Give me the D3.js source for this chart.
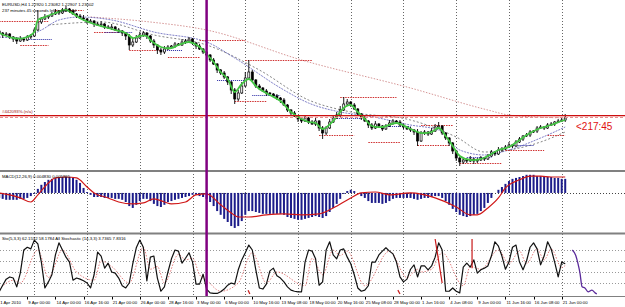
<!DOCTYPE html>
<html><head><meta charset="utf-8">
<script src="https://cdn.jsdelivr.net/npm/d3@7"></script>
<style>
body{margin:0;background:#fff}
svg{display:block;font-family:"Liberation Sans",Arial,sans-serif}
</style></head><body>
<svg id="chart" width="625" height="307"></svg>
<script>
// ---- data (one entry per 2 H4 bars) ----
const firstOpen = 1.319
const closes = [1.317,1.315,1.316,1.313,1.311,1.309,1.311,1.310,1.313,1.314,
	1.320,1.328,1.331,1.333,1.334,1.336,1.338,1.337,1.340,1.341,
	1.339,1.336,1.334,1.332,1.331,1.328,1.329,1.326,1.325,1.326,
	1.323,1.322,1.323,1.320,1.319,1.317,1.314,1.305,1.308,1.312,
	1.315,1.317,1.314,1.309,1.305,1.300,1.298,1.301,1.303,1.304,
	1.306,1.305,1.308,1.309,1.311,1.307,1.304,1.301,1.298,1.295,
	1.290,1.286,1.280,1.277,1.273,1.268,1.260,1.251,1.257,1.264,
	1.272,1.278,1.270,1.264,1.262,1.259,1.257,1.256,1.254,1.252,
	1.250,1.245,1.240,1.237,1.234,1.231,1.229,1.232,1.228,1.226,
	1.229,1.222,1.217,1.222,1.228,1.232,1.235,1.240,1.246,1.248,
	1.245,1.241,1.236,1.232,1.229,1.225,1.222,1.226,1.224,1.221,
	1.224,1.227,1.229,1.228,1.225,1.223,1.221,1.220,1.218,1.209,
	1.217,1.218,1.216,1.219,1.223,1.224,1.217,1.212,1.207,1.199,
	1.192,1.188,1.190,1.189,1.191,1.189,1.190,1.192,1.191,1.194,
	1.198,1.196,1.200,1.201,1.203,1.205,1.204,1.208,1.211,1.214,
	1.215,1.218,1.219,1.222,1.223,1.222,1.225,1.226,1.228,1.229,
	1.230,1.232]
// shadows beyond the body, in pips
const shadowUp = [20,10,20,10,10,20,30,10,20,20, 20,120,20,30,10,20,30,20,20,30,
	10,20,10,20,30,10,20,10,20,30, 10,20,30,10,20,10,10,20,40,30,
	30,20,10,10,20,10,20,30,20,10, 20,10,30,20,20,10,10,20,10,10,
	10,20,10,10,20,10,10,20,30,40, 60,120,20,10,20,10,20,10,10,20,
	10,20,10,10,20,10,20,30,10,20, 30,10,20,20,30,20,30,40,70,30,
	10,20,10,10,20,10,20,30,10,10, 20,30,20,10,20,10,10,20,10,30,
	20,20,10,30,30,40,10,10,10,10, 10,10,20,20,30,10,20,20,10,20,
	20,10,30,20,20,30,10,20,20,10, 20,20,10,20,20,10,20,20,10,20, 30,40]
const shadowDown = [20,30,10,20,30,30,10,20,10,20, 10,10,20,10,20,10,10,20,10,20,
	20,10,20,10,20,20,10,30,10,20, 20,10,20,10,20,30,40,50,20,10,
	10,20,30,20,30,40,30,20,10,20, 20,10,10,20,10,20,30,10,20,30,
	20,10,30,20,20,30,40,50,20,10, 10,20,10,20,20,10,30,20,10,20,
	30,10,20,20,10,30,20,10,20,10, 20,30,60,20,10,10,10,20,10,20,
	20,10,20,20,10,30,20,10,20,20, 10,10,20,10,20,20,10,20,30,50,
	10,20,20,10,10,10,20,20,30,30, 30,40,20,20,10,30,20,10,20,10,
	10,20,10,20,10,10,20,10,10,20, 10,20,10,20,10,20,10,10,20,10, 10,20]
// moving averages, [bar, price]
const maFast = [[0,1.317],[4,1.312],[7,1.312],[10,1.318],[11,1.330],[13,1.333],[16,1.337],[19,1.340],[22,1.334],
	[24,1.330],[27,1.326],[30,1.323],[33,1.320],[36,1.317],[38,1.312],[40,1.314],[42,1.314],[43,1.310],[46,1.303],
	[49,1.302],[51,1.305],[54,1.308],[57,1.303],[59,1.296],[61,1.288],[63,1.278],[65,1.271],[67,1.258],[69,1.266],
	[71,1.271],[73,1.264],[74,1.261],[77,1.255],[80,1.249],[83,1.238],[86,1.231],[88,1.228],[90,1.227],[92,1.221],
	[95,1.229],[98,1.242],[100,1.245],[102,1.238],[104,1.231],[106,1.224],[109,1.223],[113,1.227],[117,1.221],
	[120,1.217],[123,1.218],[125,1.222],[127,1.214],[129,1.204],[131,1.194],[134,1.190],[137,1.191],[140,1.196],
	[142,1.200],[145,1.203],[148,1.210],[151,1.217],[154,1.222],[157,1.225],[160,1.229],[161,1.230]]
const maNavy = [[0,1.313],[6,1.312],[12,1.320],[17,1.330],[23,1.333],[32,1.330],[44,1.318],[59,1.308],[67,1.292],
	[81,1.260],[88,1.247],[97,1.238],[105,1.234],[117,1.225],[125,1.220],[131,1.200],[138,1.195],[145,1.200],
	[154,1.212],[161,1.223]]
const maGray = [[14,1.325],[29,1.328],[44,1.315],[59,1.305],[74,1.280],[88,1.250],[100,1.238],[117,1.230],
	[130,1.213],[138,1.198],[145,1.200],[154,1.208],[161,1.218]]
const maSlow = [[26,1.333],[43,1.328],[59,1.320],[86,1.290],[117,1.262],[139,1.240],[145,1.235],[161,1.232]]
// [fromBar, toBar, price]
const redLevels = [[0,14,1.329],[6,14,1.305],[16,24,1.340],[27,34,1.318],[37,46,1.300],[48,57,1.293],[57,70,1.310],
	[70,89,1.290],[67,76,1.249],[97,113,1.253],[91,101,1.215],[105,114,1.208],[120,129,1.225],[119,128,1.205],
	[131,143,1.187],[144,155,1.200],[156,161,1.215]]
const blueLevels = [[8,15,1.311],[30,38,1.318],[46,52,1.300],[62,70,1.270],[72,80,1.255],[95,103,1.232],
	[110,117,1.224],[133,140,1.193],[146,152,1.205]]
const alertPrice = 1.235
// MACD main, units of 0.0001
const macdMain = [-16,-19,-22,-22,-22,-22,-19,-19,-16,-10,
	-3,13,26,35,42,45,48,51,51,51,
	51,48,42,32,16,3,-6,-13,-13,-13,
	-16,-16,-16,-19,-19,-22,-29,-42,-48,-38,
	-26,-19,-19,-26,-35,-42,-45,-38,-29,-26,
	-22,-19,-16,-13,-10,-6,-6,-10,-13,-19,
	-29,-42,-58,-70,-83,-93,-106,-112,-106,-90,
	-70,-58,-58,-61,-64,-67,-67,-67,-67,-67,
	-67,-70,-77,-80,-83,-86,-86,-83,-80,-77,
	-74,-77,-80,-74,-61,-48,-35,-19,-3,6,
	10,6,0,-10,-16,-26,-32,-32,-32,-35,
	-32,-26,-19,-16,-16,-16,-16,-16,-19,-22,
	-19,-16,-16,-13,-10,-10,-16,-26,-38,-51,
	-61,-70,-74,-77,-74,-70,-67,-58,-48,-32,
	-16,0,10,19,29,38,45,48,51,54,
	58,58,58,54,54,51,51,51,48,48,
	45,45]
const macdSignal = [[0,0],[3,-6],[6,-16],[9,-29],[11,-6],[14,32],[16,48],[19,51],[22,48],[25,19],[27,0],[31,-16],
	[34,-29],[38,-35],[41,-32],[44,-19],[47,-29],[49,-35],[53,-29],[56,-6],[59,-3],[63,-38],[66,-64],[68,-77],
	[71,-77],[76,-70],[81,-67],[86,-70],[91,-67],[95,-48],[100,-16],[103,0],[107,3],[111,-6],[117,0],[124,-16],
	[130,-45],[134,-70],[136,-70],[139,-48],[142,-16],[144,16],[148,42],[151,54],[154,54],[157,51],[161,51]]
// stochastic
const stochMain = [4,16,27,31,29,13,38,80,85,82,
	98,91,58,11,22,35,71,93,80,67,
	58,25,29,27,24,20,11,35,76,69,
	47,56,40,38,29,15,11,20,55,84,
	98,85,24,67,69,29,5,13,40,64,
	80,78,56,65,75,58,18,18,36,9,
	2,1,1,4,9,16,20,18,44,62,
	75,89,80,44,11,9,18,42,47,33,
	29,22,13,7,5,4,4,58,80,78,
	64,16,22,80,95,71,64,80,82,67,
	55,35,11,5,7,15,58,58,71,78,
	84,78,73,58,31,22,27,45,53,31,
	51,51,44,51,67,93,80,5,5,11,
	5,2,49,56,49,62,38,44,47,51,
	69,95,87,69,45,58,85,89,58,44,
	60,85,93,82,53,69,95,82,58,31,
	58,55]
const stochSignal = [[0,8],[4,25],[6,20],[11,80],[14,30],[18,80],[22,40],[27,25],[29,60],[32,50],[37,20],[41,85],
	[43,45],[45,50],[47,20],[51,72],[53,62],[55,65],[57,35],[59,25],[63,5],[68,20],[72,75],[76,20],[79,40],[87,15],
	[89,65],[92,35],[95,80],[97,70],[99,78],[104,15],[111,78],[116,30],[119,45],[120,40],[123,45],[126,75],[132,15],
	[134,50],[137,45],[142,80],[145,55],[148,78],[150,55],[153,82],[155,62],[157,82],[160,48],[161,52]]
const allStoch = [[163,80],[164,70],[164.6,56],[165.2,38],[165.8,13],[166.6,11],[167.5,4],[168.6,7],[169.5,2],[170,0]]
const redStochMarks = [[[124,100],[126,20]],[[134.5,100],[134.5,47]],[[70.8,7],[71.3,0]],[[113.4,7],[114,0]]]
const stochLevels = [20,40,60,80]
// time axis
const timeLabels = ["1 Apr 2010","9 Apr 00:00","14 Apr 00:00","16 Apr 16:00","21 Apr 00:00","26 Apr 00:00",
	"28 Apr 16:00","3 May 00:00","6 May 00:00","10 May 16:00","13 May 08:00","18 May 00:00","20 May 16:00",
	"25 May 08:00","28 May 00:00","1 Jun 16:00","4 Jun 08:00","9 Jun 00:00","11 Jun 16:00","16 Jun 08:00","21 Jun 00:00"]
const labelBars = [0,8,16,24,32,40,48,56,64,72,80,88,96,104,112,120,128,136,144,152,160]
const weekBars = [10,25,40,55,70,85,100,115,130,145,160]
const markerBar = 59

// ---- scales ----
const svg = d3.select("#chart")
const x = d3.scaleLinear().domain([0,160]).range([-0.83,561.7])
const yP = d3.scaleLinear().domain([1.18,1.35]).range([170,0])
const yM = d3.scaleLinear().domain([-125,67]).range([232,172])
const yS = d3.scaleLinear().domain([0,100]).range([294,239])
const crisp = v => Math.round(v)+0.5

const defs = svg.append("defs")
const clip = (id, y, h) => defs.append("clipPath").attr("id", id).append("rect").attr("x",0).attr("y",y).attr("width",625).attr("height",h)
clip("cP",0,170); clip("cM",172,61); clip("cS",235,61)

const lineOf = y => d3.line().x(d=>x(d[0])).y(d=>y(d[1])).curve(d3.curveMonotoneX)

// grid
svg.append("g").selectAll("line").data(weekBars).join("line")
	.attr("x1", d=>crisp(x(d))).attr("x2", d=>crisp(x(d)))
	.attr("y1", 0).attr("y2", 296)
	.attr("stroke", "#666").attr("stroke-dasharray", "1,2")

// ---- price panel ----
const gP = svg.append("g").attr("clip-path", "url(#cP)")
gP.append("path").datum(maSlow).attr("d", lineOf(yP))
	.attr("fill","none").attr("stroke","#d08a8a").attr("stroke-width",0.9).attr("stroke-dasharray","1.5,1.5")
gP.append("path").datum(maGray).attr("d", lineOf(yP))
	.attr("fill","none").attr("stroke","#666").attr("stroke-width",0.8).attr("stroke-dasharray","2,2")
gP.append("path").datum(maNavy).attr("d", lineOf(yP))
	.attr("fill","none").attr("stroke","#4a4ab0").attr("stroke-width",0.7).attr("stroke-dasharray","2,1")

gP.append("g").selectAll("line").data(redLevels).join("line")
	.attr("x1", d=>x(d[0])).attr("x2", d=>x(d[1]))
	.attr("y1", d=>crisp(yP(d[2]))).attr("y2", d=>crisp(yP(d[2])))
	.attr("stroke","#d03030").attr("stroke-dasharray","1.5,1")
gP.append("g").selectAll("line").data(blueLevels).join("line")
	.attr("x1", d=>x(d[0])).attr("x2", d=>x(d[1]))
	.attr("y1", d=>crisp(yP(d[2]))).attr("y2", d=>crisp(yP(d[2])))
	.attr("stroke","#2020a0").attr("stroke-dasharray","1,1")

// candles
const bars = closes.map((c,i)=>{
	const o = i ? closes[i-1] : firstOpen
	return {i, o, c, h: Math.max(o,c) + shadowUp[i]/10000, l: Math.min(o,c) - shadowDown[i]/10000}
})
gP.append("g").selectAll("line").data(bars).join("line")
	.attr("x1", d=>x(d.i)).attr("x2", d=>x(d.i))
	.attr("y1", d=>yP(d.h)).attr("y2", d=>yP(d.l))
	.attr("stroke","#000").attr("stroke-width",0.9)
gP.append("g").selectAll("rect").data(bars).join("rect")
	.attr("x", d=>x(d.i)-1).attr("width", 2)
	.attr("y", d=>yP(Math.max(d.o,d.c)))
	.attr("height", d=>Math.max(1, Math.abs(yP(d.o)-yP(d.c))))
	.attr("fill", d=>d.c>d.o ? "#fff" : "#000")
	.attr("stroke","#000").attr("stroke-width",0.7)

gP.append("path").datum(maFast).attr("d", lineOf(yP).curve(d3.curveCatmullRom))
	.attr("fill","none").attr("stroke","#44c444").attr("stroke-width",1.8)

// alert line, drawn over the bars
const yA = Math.round(yP(alertPrice))
gP.append("line").attr("x1",0).attr("x2",625).attr("y1",yA+2.5).attr("y2",yA+2.5)
	.attr("stroke","#e89090").attr("stroke-dasharray","3,2")
gP.append("rect").attr("x",0).attr("y",yA).attr("width",625).attr("height",1.3)
	.attr("fill","#cc1010")

// ---- MACD panel ----
const gM = svg.append("g").attr("clip-path","url(#cM)")
gM.append("line").attr("x1",0).attr("x2",625).attr("y1",crisp(yM(0))).attr("y2",crisp(yM(0)))
	.attr("stroke","#444").attr("stroke-dasharray","1,2")
gM.append("g").selectAll("rect").data(macdMain).join("rect")
	.attr("x", (d,i)=>x(i)-1).attr("width", 2)
	.attr("y", d=>Math.min(yM(0), yM(d)))
	.attr("height", d=>Math.abs(yM(d)-yM(0)))
	.attr("fill","#1c1c8a")
gM.append("path").datum(macdSignal).attr("d", lineOf(yM))
	.attr("fill","none").attr("stroke","#d01818").attr("stroke-width",1.2)

// ---- stochastic panel ----
const gS = svg.append("g").attr("clip-path","url(#cS)")
gS.append("g").selectAll("line").data(stochLevels).join("line")
	.attr("x1",0).attr("x2",625)
	.attr("y1", d=>crisp(yS(d))).attr("y2", d=>crisp(yS(d)))
	.attr("stroke","#999").attr("stroke-dasharray","1,2")
gS.append("path").datum(stochSignal).attr("d", lineOf(yS))
	.attr("fill","none").attr("stroke","#e07070").attr("stroke-width",0.9).attr("stroke-dasharray","1.5,1.5")
gS.append("path").datum(stochMain).attr("d", d3.line().x((d,i)=>x(i)).y(d=>yS(d)))
	.attr("fill","none").attr("stroke","#111").attr("stroke-width",1.2).attr("stroke-linejoin","round")
gS.append("g").selectAll("path").data(redStochMarks).join("path")
	.attr("d", d3.line().x(d=>x(d[0])).y(d=>yS(d[1])))
	.attr("fill","none").attr("stroke","#c81818").attr("stroke-width",1.2)
gS.append("path").datum(allStoch).attr("d", lineOf(yS))
	.attr("fill","none").attr("stroke","#5a2a9a").attr("stroke-width",1.3)

// panel separators / axis line
svg.append("g").selectAll("line").data([171, 233.5]).join("line")
	.attr("x1",0).attr("x2",625).attr("y1",d=>d).attr("y2",d=>d)
	.attr("stroke","#808080").attr("stroke-width",2)
svg.append("line").attr("x1",0).attr("x2",625).attr("y1",296.5).attr("y2",296.5).attr("stroke","#808080")

// marker line
svg.append("line").attr("x1",x(markerBar)).attr("x2",x(markerBar)).attr("y1",0).attr("y2",296)
	.attr("stroke","#800080").attr("stroke-width",2.5)

// time axis
const ax = svg.append("g").attr("font-size","4.3px").attr("fill","#000")
ax.selectAll("line").data(labelBars).join("line")
	.attr("x1", d=>crisp(x(d))).attr("x2", d=>crisp(x(d)))
	.attr("y1",297).attr("y2",299.5).attr("stroke","#000")
ax.selectAll("text").data(timeLabels).join("text")
	.attr("x", (d,k)=>Math.max(0, x(labelBars[k])+1)).attr("y",304)
	.text(d=>d)

// texts
const txt = (s, xx, yy, size, col) => svg.append("text").attr("x",xx).attr("y",yy)
	.attr("font-size",size).attr("fill",col).text(s)
txt("EURUSD,H4  1.22920 1.23082 1.22907 1.23002", 2, 5.5, "4.3px", "#000")
txt("237 minutes 45 seconds left to bar end", 2, 11.5, "4.3px", "#000")
txt("#442093%.(n/a)", 2, 113, "4.3px", "#a01010")
txt("MACD(12,26,9) 0.004830 0.005865", 2, 177.5, "4.3px", "#000")
txt("Sto(5,3,3) 62.1532 58.1784  All Stochastic (14,3,3) 3.7365 7.8316", 2, 239.5, "4.3px", "#000")
txt("<217:45", 576, 129.5, "10px", "#e01010")
</script></body></html>
